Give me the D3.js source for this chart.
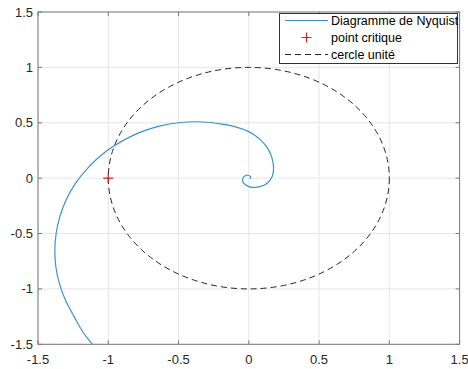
<!DOCTYPE html>
<html>
<head>
<meta charset="utf-8">
<script src="https://cdn.jsdelivr.net/npm/d3@7"></script>
<style>
  html, body { margin: 0; padding: 0; background: #fff; }
  svg { display: block; font-family: "Liberation Sans", Arial, sans-serif; }
</style>
</head>
<body>
<svg id="chart" width="468" height="369"></svg>
<script>
// ---- data ----
const xTicks = [-1.5, -1, -0.5, 0, 0.5, 1, 1.5];
const yTicks = [-1.5, -1, -0.5, 0, 0.5, 1, 1.5];
const xTickLabels = ["-1.5", "-1", "-0.5", "0", "0.5", "1", "1.5"];
const yTickLabels = ["-1.5", "-1", "-0.5", "0", "0.5", "1", "1.5"];
const nyqRe = [-1.05, -1.112, -1.175, -1.243, -1.305, -1.348, -1.373, -1.38, -1.371, -1.345, -1.301, -1.235, -1.14, -1.057, -0.985, -0.80, -0.628, -0.50, -0.367, -0.20, -0.10, 0.0, 0.04, 0.075, 0.129, 0.163, 0.176, 0.168, 0.129, 0.08, 0.034, -0.008, -0.035, -0.045, -0.038, -0.022, -0.005, 0.01, 0.014, 0.006];
const nyqIm = [-1.6, -1.5, -1.4, -1.25, -1.1, -0.95, -0.8, -0.65, -0.5, -0.35, -0.2, -0.05, 0.1, 0.2, 0.27, 0.40, 0.472, 0.50, 0.509, 0.49, 0.465, 0.42, 0.39, 0.355, 0.28, 0.19, 0.10, 0.02, -0.048, -0.077, -0.084, -0.072, -0.048, -0.02, 0.008, 0.024, 0.026, 0.016, 0.004, -0.004];
const critical = [-1, 0];
const unitRadius = 1;
const legendLabels = ["Diagramme de Nyquist", "point critique", "cercle unité"];

// ---- layout ----
const svg = d3.select("#chart");
const x = d3.scaleLinear().domain([-1.5, 1.5]).range([38, 459.6]);
const y = d3.scaleLinear().domain([-1.5, 1.5]).range([344.3, 12]);
const pL = x.range()[0], pR = x.range()[1], pT = y.range()[1], pB = y.range()[0];

svg.append("defs").append("clipPath").attr("id", "clip")
  .append("rect").attr("x", pL).attr("y", pT).attr("width", pR - pL).attr("height", pB - pT);

// grid
const grid = svg.append("g").attr("stroke", "#e6e6e6").attr("stroke-width", 1);
xTicks.forEach(t => grid.append("line").attr("x1", x(t)).attr("x2", x(t)).attr("y1", pT).attr("y2", pB));
yTicks.forEach(t => grid.append("line").attr("y1", y(t)).attr("y2", y(t)).attr("x1", pL).attr("x2", pR));

const plot = svg.append("g").attr("clip-path", "url(#clip)");

// unit circle
plot.append("ellipse")
  .attr("cx", x(0)).attr("cy", y(0))
  .attr("rx", x(unitRadius) - x(0)).attr("ry", y(0) - y(unitRadius))
  .attr("fill", "none").attr("stroke", "#262626").attr("stroke-width", 1)
  .attr("stroke-dasharray", "6,4");

// Nyquist curve
const pts = nyqRe.map((r, i) => [r, nyqIm[i]]);
plot.append("path")
  .attr("d", d3.line().x(d => x(d[0])).y(d => y(d[1])).curve(d3.curveCatmullRom.alpha(0.5))(pts))
  .attr("fill", "none").attr("stroke", "#3a94cc").attr("stroke-width", 1.2);

// critical point
const cx = x(critical[0]), cy = y(critical[1]);
plot.append("path").attr("d", `M${cx-5},${cy}H${cx+5}M${cx},${cy-5}V${cy+5}`)
  .attr("stroke", "#d62020").attr("stroke-width", 1.2);

// axes box and ticks
const axc = "#7a7a7a";
svg.append("rect").attr("x", pL).attr("y", pT).attr("width", pR - pL).attr("height", pB - pT)
  .attr("fill", "none").attr("stroke", axc).attr("stroke-width", 1);
const tl = 4;
const ticks = svg.append("g").attr("stroke", axc).attr("stroke-width", 1);
xTicks.forEach(t => {
  ticks.append("line").attr("x1", x(t)).attr("x2", x(t)).attr("y1", pB).attr("y2", pB - tl);
  ticks.append("line").attr("x1", x(t)).attr("x2", x(t)).attr("y1", pT).attr("y2", pT + tl);
});
yTicks.forEach(t => {
  ticks.append("line").attr("y1", y(t)).attr("y2", y(t)).attr("x1", pL).attr("x2", pL + tl);
  ticks.append("line").attr("y1", y(t)).attr("y2", y(t)).attr("x1", pR).attr("x2", pR - tl);
});

// tick labels
const lab = svg.append("g").attr("fill", "#262626").attr("font-size", 13);
xTicks.forEach((t, i) => lab.append("text").attr("x", x(t)).attr("y", pB + 20)
  .attr("text-anchor", "middle").text(xTickLabels[i]));
yTicks.forEach((t, i) => lab.append("text").attr("x", pL - 5).attr("y", y(t)).attr("dy", "0.35em")
  .attr("text-anchor", "end").text(yTickLabels[i]));

// legend
const lg = svg.append("g");
lg.append("rect").attr("x", 279.5).attr("y", 13.5).attr("width", 178).attr("height", 50)
  .attr("fill", "#fff").attr("stroke", "#333").attr("stroke-width", 1);
const rowY = [20.5, 37.5, 54.5];
lg.append("line").attr("x1", 285).attr("x2", 328).attr("y1", rowY[0]).attr("y2", rowY[0])
  .attr("stroke", "#3a94cc").attr("stroke-width", 1.2);
const px = 306.5;
lg.append("path").attr("d", `M${px-5},${rowY[1]}H${px+5}M${px},${rowY[1]-5}V${rowY[1]+5}`)
  .attr("stroke", "#d62020").attr("stroke-width", 1.2);
lg.append("line").attr("x1", 285).attr("x2", 328).attr("y1", rowY[2]).attr("y2", rowY[2])
  .attr("stroke", "#262626").attr("stroke-width", 1).attr("stroke-dasharray", "6,4");
legendLabels.forEach((s, i) => lg.append("text").attr("x", 331).attr("y", rowY[i]).attr("dy", "0.35em")
  .attr("font-size", 12.5).attr("fill", "#000").text(s));
</script>
</body>
</html>
